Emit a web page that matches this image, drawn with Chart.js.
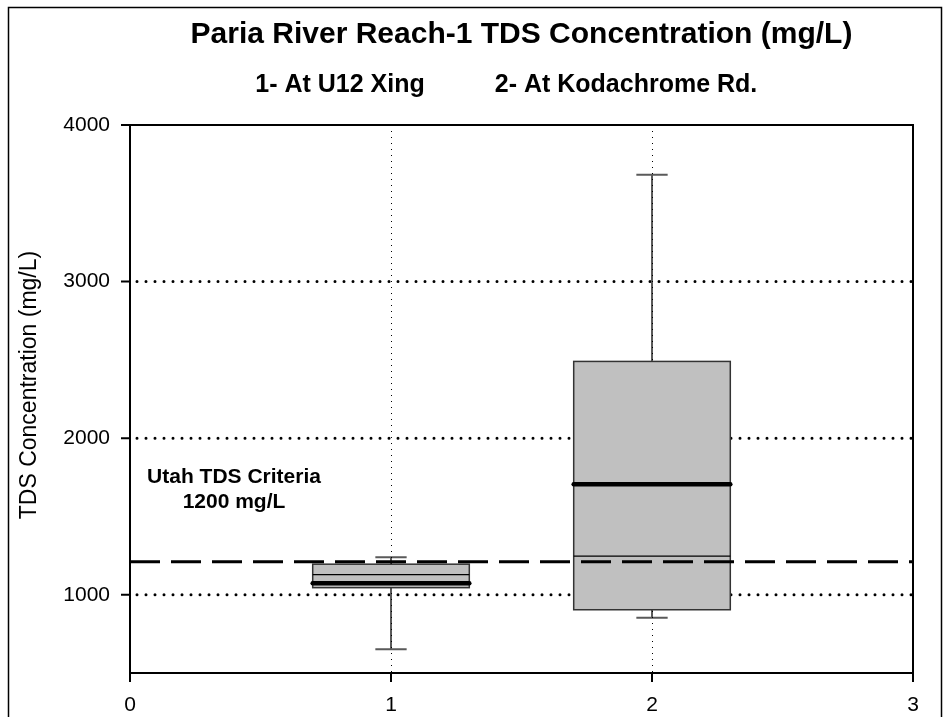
<!DOCTYPE html>
<html>
<head>
<meta charset="utf-8">
<script src="https://cdn.jsdelivr.net/npm/chart.js@4.4.1/dist/chart.umd.min.js"></script>
<style>
  html, body { margin: 0; padding: 0; background: #fff; }
  #wrap { width: 945px; height: 717px; }
</style>
</head>
<body>
<div id="wrap"><canvas id="chart"></canvas></div>
<script>
// Paria River Reach-1 TDS box plots

const sites = [1, 2];
const whiskerLow = [652, 853];
const q1 = [1045, 904];
const median = [1128, 1247];
const mean = [1074, 1705];
const q3 = [1195, 2490];
const whiskerHigh = [1240, 3682];

const criteria = 1210;
const gridValues = [1000, 2000, 3000];
const xTicks = [0, 1, 2, 3];
const yTicks = [1000, 2000, 3000, 4000];

const FONT = "Arial, 'Liberation Sans', Helvetica, sans-serif";
Chart.defaults.font.family = FONT;

const BOX_HALF = 0.3;
const CAP_HALF = 0.06;

const boxPlot = {
  id: 'boxPlot',
  beforeDatasetsDraw(chart) {
    const { ctx, chartArea: a, scales: { x, y } } = chart;
    ctx.save();

    // dotted horizontal grid
    ctx.strokeStyle = '#000';
    ctx.lineWidth = 3;
    ctx.lineCap = 'round';
    ctx.setLineDash([0, 9]);
    gridValues.forEach(v => {
      const py = y.getPixelForValue(v);
      ctx.beginPath();
      ctx.moveTo(a.left + 7, py);
      ctx.lineTo(a.right, py);
      ctx.stroke();
    });

    // whiskers
    ctx.setLineDash([]);
    ctx.lineCap = 'butt';
    ctx.strokeStyle = '#5a5a5a';
    ctx.lineWidth = 2;
    sites.forEach((s, i) => {
      const px = x.getPixelForValue(s);
      const cl = x.getPixelForValue(s - CAP_HALF);
      const cr = x.getPixelForValue(s + CAP_HALF);
      const lo = y.getPixelForValue(whiskerLow[i]);
      const hi = y.getPixelForValue(whiskerHigh[i]);
      ctx.beginPath();
      ctx.moveTo(px, lo); ctx.lineTo(px, hi);
      ctx.moveTo(cl, lo); ctx.lineTo(cr, lo);
      ctx.moveTo(cl, hi); ctx.lineTo(cr, hi);
      ctx.stroke();
    });

    // thin dotted verticals at the sites
    ctx.strokeStyle = '#000';
    ctx.lineWidth = 1;
    ctx.setLineDash([1, 5]);
    sites.forEach(s => {
      const px = Math.round(x.getPixelForValue(s)) + 0.5;
      ctx.beginPath();
      ctx.moveTo(px, a.top);
      ctx.lineTo(px, a.bottom);
      ctx.stroke();
    });
    ctx.setLineDash([]);

    // boxes
    sites.forEach((s, i) => {
      const l = x.getPixelForValue(s - BOX_HALF);
      const r = x.getPixelForValue(s + BOX_HALF);
      const top = y.getPixelForValue(q3[i]);
      const bot = y.getPixelForValue(q1[i]);
      ctx.fillStyle = '#c0c0c0';
      ctx.fillRect(l, top, r - l, bot - top);
      ctx.strokeStyle = '#333';
      ctx.lineWidth = 1.5;
      ctx.strokeRect(l, top, r - l, bot - top);

      const pm = y.getPixelForValue(median[i]);
      ctx.strokeStyle = '#000';
      ctx.lineWidth = 1.2;
      ctx.beginPath();
      ctx.moveTo(l, pm); ctx.lineTo(r, pm);
      ctx.stroke();

      const pa = y.getPixelForValue(mean[i]);
      ctx.lineWidth = 4.5;
      ctx.lineCap = 'round';
      ctx.beginPath();
      ctx.moveTo(l, pa); ctx.lineTo(r, pa);
      ctx.stroke();
      ctx.lineCap = 'butt';
    });
    ctx.restore();
  },
  afterDraw(chart) {
    const { ctx, chartArea: a, scales: { x, y } } = chart;
    ctx.save();
    ctx.strokeStyle = '#000';
    ctx.lineWidth = 2;

    // axis frame
    ctx.strokeRect(a.left, a.top, a.right - a.left, a.bottom - a.top);

    // tick marks, outside
    ctx.beginPath();
    yTicks.forEach(v => {
      const py = y.getPixelForValue(v);
      ctx.moveTo(a.left - 9, py); ctx.lineTo(a.left, py);
    });
    xTicks.forEach(v => {
      const px = x.getPixelForValue(v);
      ctx.moveTo(px, a.bottom); ctx.lineTo(px, a.bottom + 9);
    });
    ctx.stroke();

    // outer border
    ctx.lineWidth = 1.5;
    ctx.strokeRect(8.5, 7.5, 933, 730);

    // texts
    ctx.fillStyle = '#000';
    ctx.textAlign = 'center';
    ctx.textBaseline = 'middle';
    ctx.font = 'bold 30px ' + FONT;
    ctx.fillText('Paria River Reach-1 TDS Concentration (mg/L)', (a.left + a.right) / 2, 35);
    ctx.font = 'bold 25px ' + FONT;
    ctx.fillText('1- At U12 Xing', 340, 85);
    ctx.fillText('2- At Kodachrome Rd.', 626, 85);

    ctx.font = 'bold 21px ' + FONT;
    ctx.fillText('Utah TDS Criteria', 234, 477);
    ctx.fillText('1200 mg/L', 234, 502);

    ctx.font = '23px ' + FONT;
    ctx.translate(30, 385);
    ctx.rotate(-Math.PI / 2);
    ctx.fillText('TDS Concentration (mg/L)', 0, 0);
    ctx.restore();
  }
};

new Chart(document.getElementById('chart'), {
  type: 'line',
  data: {
    datasets: [{
      label: 'Utah TDS Criteria',
      data: [{ x: xTicks[0], y: criteria }, { x: xTicks[xTicks.length - 1], y: criteria }],
      borderColor: '#000',
      borderWidth: 3,
      borderDash: [30, 11],
      pointRadius: 0,
      fill: false,
    }],
  },
  options: {
    responsive: true,
    maintainAspectRatio: false,
    animation: false,
    layout: { padding: { top: 125, right: 32, left: 0, bottom: 0 } },
    plugins: {
      legend: { display: false },
      tooltip: { enabled: false },
    },
    scales: {
      x: {
        type: 'linear',
        min: 0,
        max: 3,
        afterBuildTicks: s => { s.ticks = xTicks.map(v => ({ value: v })); },
        afterFit: s => { s.height = 44; },
        grid: { display: false, drawTicks: false },
        border: { display: false },
        ticks: { color: '#000', font: { size: 21 }, padding: 20, maxRotation: 0, callback: v => String(v) },
      },
      y: {
        type: 'linear',
        min: 500,
        max: 4000,
        afterBuildTicks: s => { s.ticks = yTicks.map(v => ({ value: v })); },
        afterFit: s => { s.width = 130; },
        grid: { display: false, drawTicks: false },
        border: { display: false },
        ticks: { color: '#000', font: { size: 21 }, padding: 20, callback: v => String(v) },
      },
    },
  },
  plugins: [boxPlot],
});
</script>
</body>
</html>
